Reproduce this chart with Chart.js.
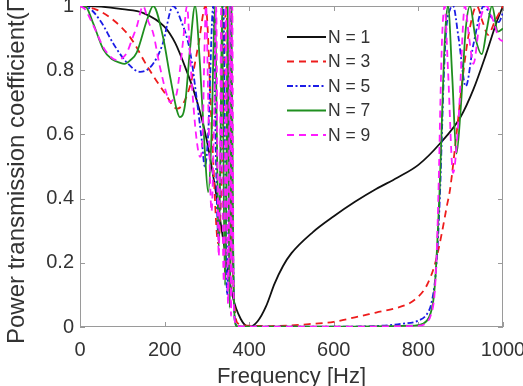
<!DOCTYPE html>
<html>
<head>
<meta charset="utf-8">
<script src="https://cdn.jsdelivr.net/npm/chart.js@4.4.1/dist/chart.umd.min.js"></script>
<style>
  html, body { margin: 0; padding: 0; background: #fff; }
</style>
</head>
<body>
<canvas id="chart" width="523" height="386"></canvas>
<script>
// frequency [Hz] and transmission values, one pair per N
const n1Freq = [0, 50, 100, 150, 200, 225, 250, 275, 300, 320, 340, 360, 380, 400, 420, 440, 460, 480, 500, 550, 600, 650, 700, 750, 800, 850, 900, 930, 960, 985, 1000];
const n1T = [1, 0.998, 0.99, 0.978, 0.935, 0.885, 0.805, 0.71, 0.58, 0.43, 0.26, 0.1, 0.025, 0, 0.018, 0.065, 0.135, 0.19, 0.23, 0.295, 0.345, 0.39, 0.43, 0.465, 0.505, 0.57, 0.655, 0.74, 0.85, 0.95, 1];

const n3Freq = [0, 40, 80, 120, 160, 200, 230, 260, 280, 297, 312, 327, 338, 345, 352, 358, 363, 368, 375, 400, 450, 500, 550, 600, 650, 700, 750, 780, 800, 820, 840, 855, 867, 875, 890, 905, 920, 938, 952, 965, 980, 1000];
const n3T = [1, 0.988, 0.955, 0.9, 0.81, 0.73, 0.68, 0.75, 0.88, 1, 0.6, 0.26, 0.6, 1, 0.75, 0.35, 0.12, 0.03, 0.01, 0.004, 0.003, 0.005, 0.01, 0.016, 0.03, 0.045, 0.06, 0.075, 0.095, 0.13, 0.2, 0.29, 0.375, 0.43, 0.6, 0.78, 0.92, 1, 0.95, 0.91, 0.95, 1];

const n5Freq = [0, 20, 50, 80, 110, 142, 170, 195, 220, 240, 260, 276, 288, 295, 303, 315, 321, 327, 333, 339, 344, 348, 352, 355, 360, 364, 368, 375, 400, 500, 600, 700, 760, 800, 820, 830, 838, 843, 848, 852, 856, 860, 866, 875, 882, 895, 912, 930, 955, 975, 990, 1000];
const n5T = [1, 0.995, 0.95, 0.88, 0.825, 0.795, 0.815, 0.88, 1, 0.95, 0.86, 0.71, 0.58, 0.5, 0.6, 1, 0.55, 0.28, 0.55, 1, 0.4, 0.1, 0.5, 1, 0.45, 0.08, 0.01, 0.002, 0.001, 0.001, 0.001, 0.003, 0.01, 0.02, 0.04, 0.07, 0.13, 0.2, 0.32, 0.45, 0.62, 0.78, 0.93, 0.99, 1, 0.9, 0.75, 0.88, 1, 0.96, 0.95, 0.98];

const n7Freq = [0, 12, 30, 55, 75, 95, 105, 118, 134, 158, 173, 196, 213, 229, 236, 248, 260, 272, 284, 295, 303, 311, 319, 324, 328, 332, 336, 340, 343, 346, 349, 352, 354, 356, 358, 362, 366, 370, 400, 600, 780, 810, 825, 835, 840, 845, 850, 855, 860, 865, 870, 880, 890, 900, 912, 922, 935, 950, 962, 974, 988, 1000];
const n7T = [1, 1, 0.95, 0.865, 0.835, 0.823, 0.82, 0.83, 0.855, 0.955, 1, 0.905, 0.78, 0.675, 0.654, 0.69, 0.865, 1, 0.81, 0.55, 0.42, 0.6, 1, 0.55, 0.25, 0.55, 1, 0.4, 0.13, 0.45, 1, 0.3, 0.06, 0.3, 1, 0.25, 0.02, 0.003, 0.001, 0.001, 0.004, 0.01, 0.03, 0.08, 0.15, 0.27, 0.42, 0.62, 0.82, 0.95, 1, 0.78, 0.54, 0.68, 0.93, 1, 0.9, 0.85, 0.93, 1, 0.92, 0.93];

const n9Freq = [0, 12, 24, 40, 55, 70, 85, 100, 111, 124, 134, 149, 162, 173, 189, 205, 213, 221, 229, 244, 253, 260, 267, 276, 284, 290, 294, 298, 304, 311, 317, 322, 325, 328, 331, 334, 337, 340, 343, 345, 348, 350, 352, 354, 357, 360, 363, 366, 370, 400, 600, 800, 820, 830, 838, 843, 848, 852, 856, 862, 870, 882, 895, 910, 920, 930, 945, 960, 978, 990, 1000];
const n9T = [1, 0.99, 0.96, 0.915, 0.872, 0.845, 0.832, 0.838, 0.855, 0.9, 0.935, 1, 0.95, 0.915, 0.81, 0.725, 0.7, 0.71, 0.73, 0.895, 1, 0.85, 0.71, 0.58, 0.53, 0.6, 0.85, 1, 0.65, 0.36, 0.65, 1, 0.5, 0.22, 0.5, 1, 0.4, 0.14, 0.4, 1, 0.3, 0.07, 0.3, 1, 0.035, 1, 0.12, 0.02, 0.003, 0.001, 0.001, 0.004, 0.015, 0.04, 0.1, 0.22, 0.45, 0.7, 0.9, 1, 0.8, 0.48, 0.65, 1, 0.9, 0.82, 0.95, 1, 0.95, 0.9, 0.89];

const xTicks = [0, 200, 400, 600, 800, 1000];
const xTickLabels = ['0', '200', '400', '600', '800', '1000'];
const yTicks = [0, 0.2, 0.4, 0.6, 0.8, 1];
const yTickLabels = ['0', '0.2', '0.4', '0.6', '0.8', '1'];
const xTitle = 'Frequency [Hz]';
const yTitle = 'Power transmission coefficient(\u03A0\u209C)';

const fontFamily = '"Liberation Sans", Arial, Helvetica, sans-serif';
const textColor = '#333333';

const series = [
    { label: 'N = 1', f: n1Freq, t: n1T, color: '#111111', dash: [] },
    { label: 'N = 3', f: n3Freq, t: n3T, color: '#ee1c1c', dash: [7, 5] },
    { label: 'N = 5', f: n5Freq, t: n5T, color: '#1c1ce6', dash: [6, 2.5, 2, 2.5] },
    { label: 'N = 7', f: n7Freq, t: n7T, color: '#1f8f1f', dash: [] },
    { label: 'N = 9', f: n9Freq, t: n9T, color: '#ff1cff', dash: [7, 5] }
];

const datasets = series.map((s, i) => ({
    label: s.label,
    data: s.f.map((v, k) => ({ x: v, y: s.t[k] })),
    borderColor: s.color,
    borderDash: s.dash,
    borderWidth: 1.8,
    pointRadius: 0,
    fill: false,
    cubicInterpolationMode: 'monotone',
    order: series.length - 1 - i
}));

// box, inward ticks, rotated y title and the legend inside the axes
const matlabFrame = {
    id: 'matlabFrame',
    beforeDatasetsDraw(chart) {
        const { ctx, chartArea: a, scales: { x, y } } = chart;
        ctx.save();
        ctx.strokeStyle = '#9a9a9a';
        ctx.lineWidth = 1;
        ctx.strokeRect(a.left + 0.5, a.top + 0.5, a.right - a.left - 1, a.bottom - a.top - 1);
        ctx.beginPath();
        xTicks.forEach(v => {
            const px = Math.round(x.getPixelForValue(v)) + 0.5;
            ctx.moveTo(px, a.bottom); ctx.lineTo(px, a.bottom - 5);
            ctx.moveTo(px, a.top); ctx.lineTo(px, a.top + 5);
        });
        yTicks.forEach(v => {
            const py = Math.round(y.getPixelForValue(v)) + 0.5;
            ctx.moveTo(a.left, py); ctx.lineTo(a.left + 5, py);
            ctx.moveTo(a.right, py); ctx.lineTo(a.right - 5, py);
        });
        ctx.stroke();
        ctx.restore();
    },
    afterDraw(chart) {
        const { ctx } = chart;
        // y title starts near the bottom and runs off the top edge, as in the figure
        ctx.save();
        ctx.translate(17, 344);
        ctx.rotate(-Math.PI / 2);
        ctx.font = '24px ' + fontFamily;
        ctx.fillStyle = textColor;
        ctx.textAlign = 'left';
        ctx.textBaseline = 'middle';
        ctx.fillText(yTitle, 0, 0);
        ctx.restore();

        ctx.save();
        ctx.font = '17.5px ' + fontFamily;
        ctx.textBaseline = 'middle';
        chart.data.datasets.forEach((ds, i) => {
            const rowY = 37 + i * 24.5;
            ctx.strokeStyle = ds.borderColor;
            ctx.lineWidth = ds.borderWidth;
            ctx.setLineDash(ds.borderDash);
            ctx.beginPath();
            ctx.moveTo(287, rowY);
            ctx.lineTo(326, rowY);
            ctx.stroke();
            ctx.setLineDash([]);
            ctx.fillStyle = textColor;
            ctx.fillText(ds.label, 328, rowY + 1);
        });
        ctx.restore();
    }
};

new Chart(document.getElementById('chart'), {
    type: 'line',
    data: { datasets: datasets },
    options: {
        responsive: false,
        animation: false,
        layout: { padding: { left: 0, top: 6, right: 20, bottom: 0 } },
        plugins: { legend: { display: false }, tooltip: { enabled: false } },
        scales: {
            x: {
                type: 'linear',
                min: 0,
                max: 1000,
                afterBuildTicks: s => { s.ticks = xTicks.map(v => ({ value: v })); },
                afterFit: s => { s.height = 59; s.paddingLeft = 0; s.paddingRight = 0; },
                grid: { display: false, drawTicks: false },
                border: { display: false },
                ticks: {
                    color: textColor, font: { size: 20, family: fontFamily }, padding: 11,
                    maxRotation: 0, autoSkip: false,
                    callback: (value, index) => xTickLabels[index]
                },
                title: { display: true, text: xTitle, color: textColor, font: { size: 22, family: fontFamily }, padding: { top: 0, bottom: -4 } }
            },
            y: {
                type: 'linear',
                min: 0,
                max: 1,
                afterBuildTicks: s => { s.ticks = yTicks.map(v => ({ value: v })); },
                afterFit: s => { s.width = 80; s.paddingTop = 0; s.paddingBottom = 0; },
                grid: { display: false, drawTicks: false },
                border: { display: false },
                ticks: {
                    color: textColor, font: { size: 20, family: fontFamily }, padding: 6,
                    callback: (value, index) => yTickLabels[index]
                }
            }
        }
    },
    plugins: [matlabFrame]
});
</script>
</body>
</html>
